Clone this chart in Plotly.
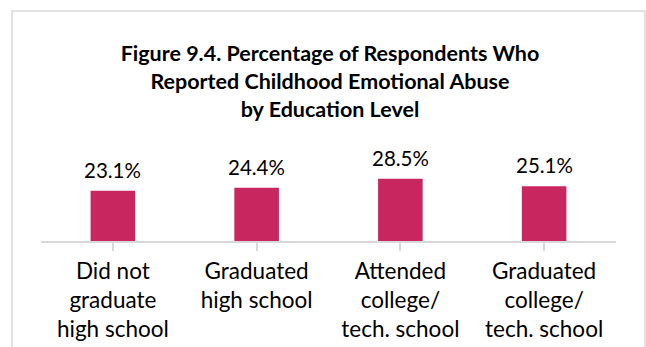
import plotly.graph_objects as go

# Education level categories and share reporting childhood emotional abuse (%)
categories = [
    "Did not<br>graduate<br>high school",
    "Graduated<br>high school",
    "Attended<br>college/<br>tech. school",
    "Graduated<br>college/<br>tech. school",
]
values = [23.1, 24.4, 28.5, 25.1]
value_labels = [f"{v:.1f}%" for v in values]

title_text = ("Figure 9.4. Percentage of Respondents Who<br>"
              "Reported Childhood Emotional Abuse<br>by Education Level")

W, H = 646, 347
FONT = "Lato"
BAR_COLOR = "#C8265F"
LINE_GRAY = "#D9D9D9"

margin_l, margin_r, margin_t, margin_b = 41, 30, 140, 106
plot_h = H - margin_t - margin_b
y_max = plot_h / 2.18

fig = go.Figure(
    go.Bar(
        x=list(range(len(categories))),
        y=values,
        marker=dict(color=BAR_COLOR, line=dict(width=0)),
        hoverinfo="skip",
    )
)

# value labels above each bar
for i, (v, lab) in enumerate(zip(values, value_labels)):
    fig.add_annotation(
        x=i, y=v, text=lab, showarrow=False,
        xref="x", yref="y", yanchor="middle", yshift=21,
        font=dict(family=FONT, size=20.5, color="#000000"),
    )

# light chart-area frame
fig.add_shape(
    type="rect", xref="paper", yref="paper",
    x0=(12 - margin_l) / (W - margin_l - margin_r),
    x1=(645 - margin_l) / (W - margin_l - margin_r),
    y0=-(H + 20 - (H - margin_b)) / plot_h,
    y1=(H - margin_b - 11) / plot_h,
    line=dict(color=LINE_GRAY, width=1.5),
    fillcolor="rgba(0,0,0,0)", layer="below",
)

fig.update_layout(
    width=W, height=H,
    margin=dict(l=margin_l, r=margin_r, t=margin_t, b=margin_b, autoexpand=False),
    paper_bgcolor="white", plot_bgcolor="white",
    bargap=0.69,
    showlegend=False,
    title=dict(
        text=title_text,
        x=330 / W, xanchor="center", xref="container",
        y=1 - 61 / H, yanchor="top", yref="container",
        font=dict(family=FONT, size=21.5, color="#000000", weight="bold"),
    ),
    xaxis=dict(
        tickmode="array",
        tickvals=list(range(len(categories))),
        ticktext=categories,
        range=[-0.5, len(categories) - 0.5],
        showline=True, linecolor=LINE_GRAY, linewidth=1.5,
        ticks="outside", tickson="boundaries", ticklen=8,
        tickcolor=LINE_GRAY, tickwidth=1.5,
        ticklabelstandoff=1,
        automargin=False,
        showgrid=False, zeroline=False,
        tickfont=dict(family=FONT, size=22.5, color="#000000"),
    ),
    yaxis=dict(
        range=[0, y_max], visible=False, showgrid=False, zeroline=False,
        automargin=False,
    ),
)

fig.write_html("out.html")
